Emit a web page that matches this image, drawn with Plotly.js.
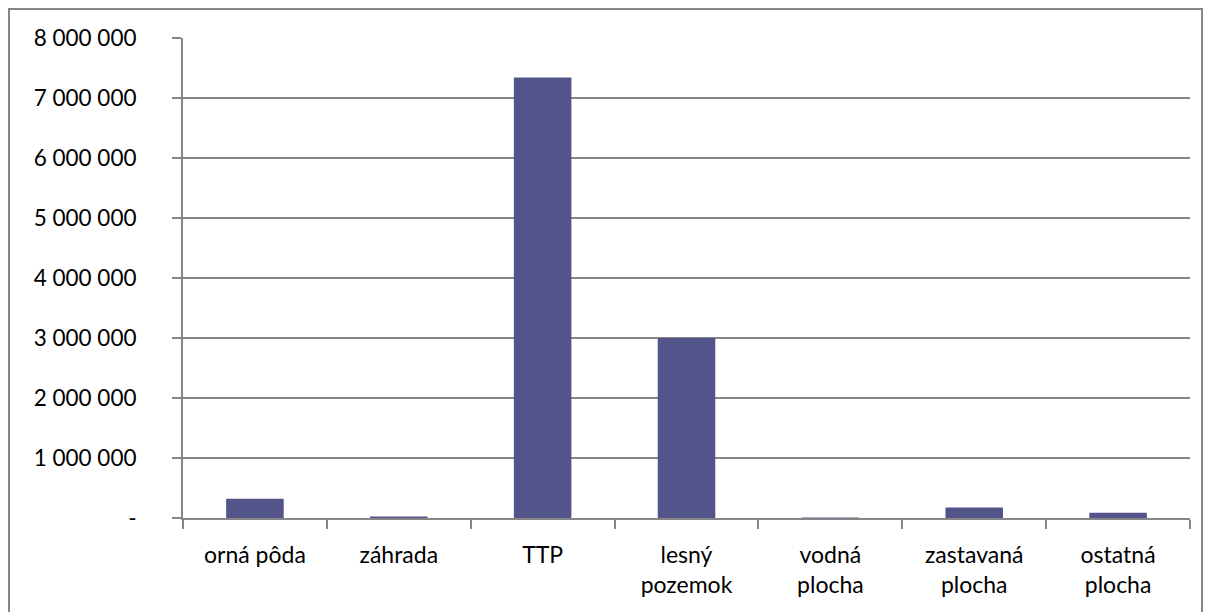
<!DOCTYPE html>
<html><head><meta charset="utf-8">
<script src="https://cdn.plot.ly/plotly-3.0.1.min.js"></script>
<style>html,body{margin:0;padding:0;background:#fff}#c{width:1211px;height:612px}</style>
</head><body><div id="c"></div>
<script>
const categories = ['orná pôda','záhrada','TTP','lesný<br>pozemok','vodná<br>plocha','zastavaná<br>plocha','ostatná<br>plocha'];
const values = [320000, 25000, 7340000, 3000000, 10000, 175000, 87000];
const yTickVals = [0,1000000,2000000,3000000,4000000,5000000,6000000,7000000,8000000];
const yTickText = ['-','1 000 000','2 000 000','3 000 000','4 000 000','5 000 000','6 000 000','7 000 000','8 000 000'];

const L=183, R=1190, T=38, B=518.5, W=1211, H=612;
const pw=R-L, ph=B-T;
const FONT='Lato, "Open Sans", sans-serif';
const trace = {type:'bar', x:categories, y:values, marker:{color:'#53548A'}, width:0.4, hoverinfo:'x+y'};
const layout = {
  width:W, height:H,
  margin:{l:L, r:W-R, t:T, b:H-B, pad:0},
  paper_bgcolor:'#fff', plot_bgcolor:'#fff',
  font:{family:FONT, size:22, color:'#000'},
  showlegend:false,
  bargap:0.6,
  xaxis:{type:'category', tickson:'boundaries', ticks:'outside', ticklen:9, tickwidth:2, tickcolor:'#868686',
    showline:true, linecolor:'#868686', linewidth:2, showgrid:false, zeroline:false,
    tickfont:{family:FONT, size:23, color:'#000'}, ticklabelstandoff:15},
  yaxis:{range:[0,8000000], tickvals:yTickVals, ticktext:yTickText, ticks:'outside', ticklen:9, tickwidth:2, tickcolor:'#868686',
    showline:true, linecolor:'#868686', linewidth:2, showgrid:true, gridcolor:'#868686', gridwidth:1.5, zeroline:false,
    tickfont:{family:FONT, size:22.5, color:'#000'}, ticklabelstandoff:31},
  shapes:[{type:'rect', xref:'paper', yref:'paper', x0:(9-L)/pw, x1:(1202-L)/pw, y0:(B-630)/ph, y1:(B-9)/ph,
    line:{color:'#868686', width:2}, fillcolor:'rgba(0,0,0,0)', layer:'below'}]
};
Plotly.newPlot('c',[trace],layout,{displayModeBar:false,staticPlot:true});
</script></body></html>
